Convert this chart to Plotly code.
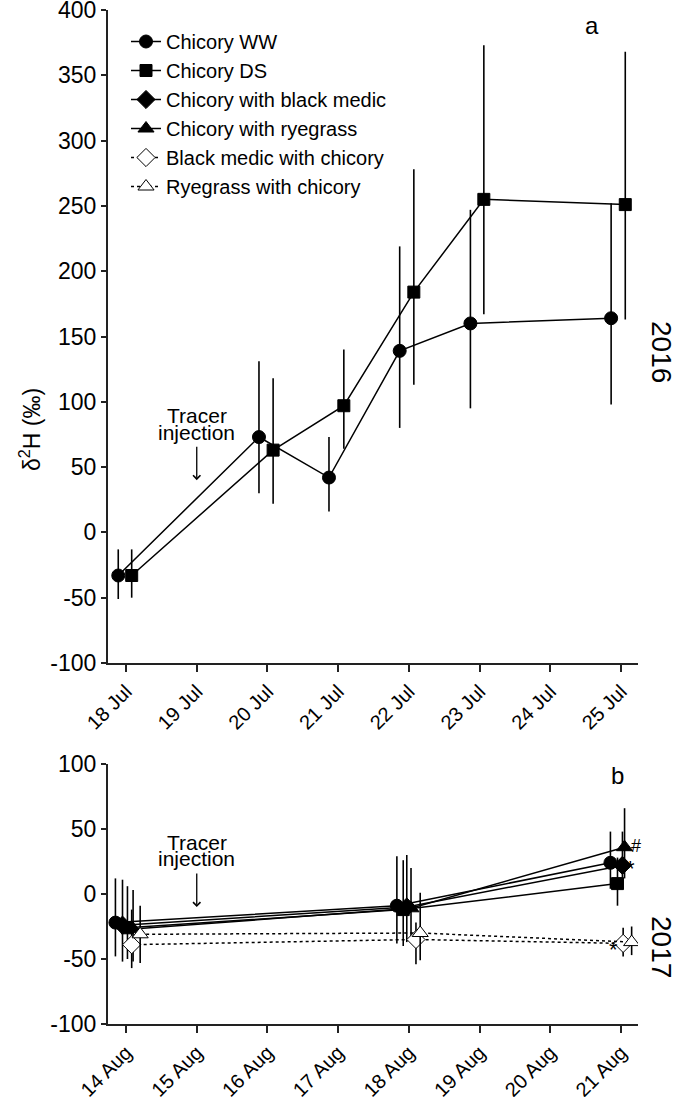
import plotly.graph_objects as go

W, H = 685, 1097
FONT = "Liberation Sans, Arial, sans-serif"

# ---------------- data 2016 (panel a), x = day of July ----------------
ww16_x = [17.89, 19.88, 20.87, 21.87, 22.87, 24.86]
ww16_y = [-33, 73, 42, 139, 160, 164]
ww16_up = [20, 58, 31, 80, 87, 88]
ww16_dn = [18, 43, 26, 59, 65, 66]

ds16_x = [18.08, 20.08, 21.08, 22.07, 23.06, 25.06]
ds16_y = [-33, 63, 97, 184, 255, 251]
ds16_up = [20, 55, 43, 94, 118, 117]
ds16_dn = [17, 41, 33, 71, 88, 88]

# ---------------- data 2017 (panel b), x = day of August ----------------
ww17_x = [13.85, 17.83, 20.85]
ww17_y = [-22, -9, 24]
ww17_up = [34, 38, 24]
ww17_dn = [26, 29, 20]

ds17_x = [14.02, 17.92, 20.95]
ds17_y = [-26, -12, 8]
ds17_up = [32, 38, 20]
ds17_dn = [24, 28, 17]

cbm17_x = [13.95, 17.97, 21.02]
cbm17_y = [-24, -10, 22]
cbm17_up = [35, 40, 26]
cbm17_dn = [28, 27, 10]

cr17_x = [14.10, 18.03, 21.05]
cr17_y = [-27, -11, 36]
cr17_up = [30, 31, 30]
cr17_dn = [25, 22, 24]

bmc17_x = [14.08, 18.10, 21.03]
bmc17_y = [-39, -35, -38]
bmc17_up = [27, 13, 12]
bmc17_dn = [18, 19, 10]

rc17_x = [14.20, 18.16, 21.15]
rc17_y = [-31, -30, -37]
rc17_up = [22, 31, 12]
rc17_dn = [22, 21, 10]

# ticks
ticks16 = [18, 19, 20, 21, 22, 23, 24, 25]
ticklabels16 = ["18 Jul", "19 Jul", "20 Jul", "21 Jul", "22 Jul", "23 Jul", "24 Jul", "25 Jul"]
ticks17 = [14, 15, 16, 17, 18, 19, 20, 21]
ticklabels17 = ["14 Aug", "15 Aug", "16 Aug", "17 Aug", "18 Aug", "19 Aug", "20 Aug", "21 Aug"]
yticks_a = [-100, -50, 0, 50, 100, 150, 200, 250, 300, 350, 400]
yticklabels_a = ["-100", "-50", "0", "50", "100", "150", "200", "250", "300", "350", "400"]
yticks_b = [-100, -50, 0, 50, 100]
yticklabels_b = ["-100", "-50", "0", "50", "100"]

names = ["Chicory WW", "Chicory DS", "Chicory with black medic", "Chicory with ryegrass",
         "Black medic with chicory", "Ryegrass with chicory"]


def px(x):
    return x / W


def py(y):
    return 1 - y / H


fig = go.Figure()


def add(x, y, up, dn, name, symbol, size, fill, dash, xa, ya, show, lc="black"):
    fig.add_trace(go.Scatter(
        x=x, y=y, name=name, mode="lines+markers", xaxis=xa, yaxis=ya,
        showlegend=show, legendgroup=name,
        line=dict(color=lc, width=1.5, dash=dash),
        marker=dict(symbol=symbol, size=size, color=fill,
                    line=dict(color="black" if fill == "white" else fill, width=1)),
        error_y=dict(type="data", symmetric=False, array=up, arrayminus=dn,
                     color="black", thickness=1.6, width=0),
    ))


# panel a
add(ww16_x, ww16_y, ww16_up, ww16_dn, names[0], "circle", 13, "black", "solid", "x", "y", True)
add(ds16_x, ds16_y, ds16_up, ds16_dn, names[1], "square", 12, "black", "solid", "x", "y", True)
# panel b
add(ww17_x, ww17_y, ww17_up, ww17_dn, names[0], "circle", 13, "black", "solid", "x2", "y2", False)
add(ds17_x, ds17_y, ds17_up, ds17_dn, names[1], "square", 12, "black", "solid", "x2", "y2", False)
add(cbm17_x, cbm17_y, cbm17_up, cbm17_dn, names[2], "diamond", 14, "black", "solid", "x2", "y2", True)
add(cr17_x, cr17_y, cr17_up, cr17_dn, names[3], "triangle-up", 14, "black", "solid", "x2", "y2", True)
add(bmc17_x, bmc17_y, bmc17_up, bmc17_dn, names[4], "diamond", 14, "white", "dot", "x2", "y2", True)
add(rc17_x, rc17_y, rc17_up, rc17_dn, names[5], "triangle-up", 14, "white", "dot", "x2", "y2", True)

xdom = [px(108), px(638)]
axis_common = dict(showgrid=False, zeroline=False, showline=True, linecolor="#222",
                   linewidth=2, ticks="outside", tickcolor="#222", tickwidth=1.5,
                   automargin=False, ticklabeloverflow="allow")
xfont = dict(family=FONT, size=20, color="black")
yfont = dict(family=FONT, size=23, color="black")

fig.update_layout(
    width=W, height=H, margin=dict(l=0, r=0, t=0, b=0, autoexpand=False),
    plot_bgcolor="white", paper_bgcolor="white",
    font=dict(family=FONT, color="black"),
    xaxis=dict(domain=xdom, range=[17.745, 25.24], tickvals=ticks16, ticktext=ticklabels16,
               tickangle=-45, ticklen=7, anchor="y", tickfont=xfont, **axis_common),
    yaxis=dict(domain=[py(663), py(10)], range=[-100, 400], tickvals=yticks_a,
               ticktext=yticklabels_a, ticklen=5, anchor="x", tickfont=yfont, **axis_common),
    xaxis2=dict(domain=xdom, range=[13.745, 21.24], tickvals=ticks17, ticktext=ticklabels17,
                tickangle=-45, ticklen=7, anchor="y2", tickfont=xfont, **axis_common),
    yaxis2=dict(domain=[py(1024), py(764)], range=[-100, 100], tickvals=yticks_b,
                ticktext=yticklabels_b, ticklen=5, anchor="x2", tickfont=yfont, **axis_common),
    legend=dict(x=px(126), y=py(22), xanchor="left", yanchor="top",
                font=dict(family=FONT, size=20, color="black"),
                bgcolor="rgba(0,0,0,0)", tracegroupgap=0, itemwidth=30),
    showlegend=True,
    hovermode=False,
)

ann = []


def text(x, y, t, size=21, angle=0, xref="paper", yref="paper"):
    ann.append(dict(x=x, y=y, xref=xref, yref=yref, text=t, showarrow=False,
                    textangle=angle, font=dict(family=FONT, size=size, color="black"),
                    xanchor="center", yanchor="middle"))


text(px(30), py(430), "δ<sup>2</sup>H (‰)", size=23, angle=-90)
text(px(662), py(352), "2016", size=28, angle=90)
text(px(662), py(947), "2017", size=28, angle=90)
text(px(592), py(25), "a", size=24)
text(px(617), py(775), "b", size=24)

# tracer injection labels
text(19, 400 - (415 - 10) / 1.306, "Tracer", size=21, xref="x", yref="y")
text(19, 400 - (432 - 10) / 1.306, "injection", size=21, xref="x", yref="y")
text(15, (894 - 842) / 1.3, "Tracer", size=21, xref="x2", yref="y2")
text(15, (894 - 858) / 1.3, "injection", size=21, xref="x2", yref="y2")

for (xx, yy, xr, yr) in [(19, 40, "x", "y"), (15, -10, "x2", "y2")]:
    ann.append(dict(x=xx, y=yy, xref=xr, yref=yr, text="", showarrow=True,
                    ax=0, ay=-35, arrowhead=4, arrowsize=1.1, arrowwidth=1.3,
                    arrowcolor="black"))

# significance marks
text(21.21, 37, "#", size=18, xref="x2", yref="y2")
text(21.13, 20, "*", size=22, xref="x2", yref="y2")
text(20.89, -43, "*", size=22, xref="x2", yref="y2")
text(21.30, -34, "#", size=18, xref="x2", yref="y2")

fig.update_layout(annotations=ann)
# remove the browser's default 8 px body margin so the figure sits at (0, 0)
fig.write_html("out.html", config={"displayModeBar": False},
               post_script="document.body.style.margin='0px';")
